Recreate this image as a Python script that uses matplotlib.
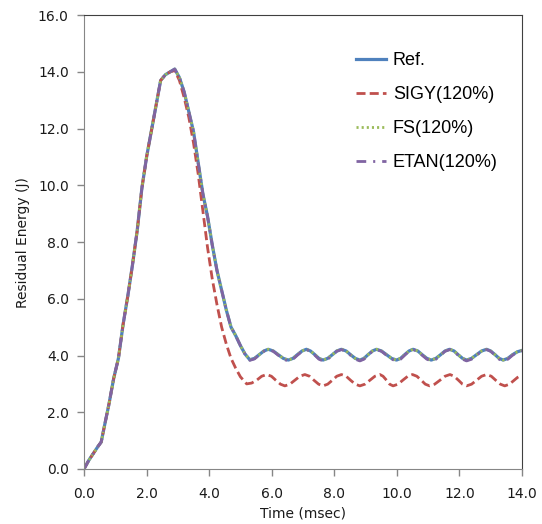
import matplotlib
matplotlib.use('Agg')
import matplotlib.pyplot as plt
import numpy as np

'''
Data (read off the chart)
'''
# Ref. curve
ref_t = [0.0, 0.15, 0.3, 0.45, 0.55, 0.65, 0.8, 0.95, 1.1, 1.25, 1.4, 1.55, 1.7, 1.85,
         2.0, 2.15, 2.3, 2.45, 2.6, 2.75, 2.9, 3.05, 3.2, 3.35, 3.5, 3.65, 3.8, 3.95,
         4.1, 4.25, 4.4, 4.55, 4.7, 4.85, 5.0, 5.15,
         5.3, 5.45, 5.6, 5.75, 5.89, 6.05, 6.21, 6.37, 6.53, 6.68, 6.82, 6.97,
         7.11, 7.24, 7.38, 7.51, 7.64, 7.79, 7.94, 8.08, 8.23, 8.38, 8.52, 8.67,
         8.82, 8.95, 9.08, 9.22, 9.35, 9.51, 9.67, 9.83, 9.99, 10.12, 10.25, 10.39,
         10.52, 10.67, 10.81, 10.96, 11.1, 11.25, 11.4, 11.54, 11.69, 11.83, 11.96, 12.1,
         12.23, 12.39, 12.55, 12.71, 12.87, 13.0, 13.14, 13.27, 13.4, 13.55, 13.7, 13.85, 14.0]
ref_e = [0.0, 0.3, 0.55, 0.8, 0.95, 1.5, 2.3, 3.2, 3.9, 5.1, 6.1, 7.2, 8.4, 9.9,
         11.0, 11.9, 12.8, 13.7, 13.9, 14.0, 14.1, 13.8, 13.3, 12.6, 11.9, 10.8, 9.7, 8.9,
         7.9, 7.0, 6.3, 5.6, 5.0, 4.7, 4.35, 4.05,
         3.85, 3.9, 4.03, 4.16, 4.22, 4.16, 4.03, 3.9, 3.84, 3.9, 4.03, 4.16,
         4.22, 4.16, 4.03, 3.9, 3.84, 3.9, 4.03, 4.16, 4.22, 4.16, 4.03, 3.9,
         3.84, 3.9, 4.03, 4.16, 4.22, 4.16, 4.03, 3.9, 3.84, 3.9, 4.03, 4.16,
         4.22, 4.16, 4.03, 3.9, 3.84, 3.9, 4.03, 4.16, 4.22, 4.16, 4.03, 3.9,
         3.84, 3.9, 4.03, 4.16, 4.22, 4.16, 4.03, 3.9, 3.84, 3.9, 4.03, 4.13, 4.18]

# SIGY(120%)
sigy_t = [0.0, 0.15, 0.3, 0.45, 0.55, 0.65, 0.8, 0.95, 1.1, 1.25, 1.4, 1.55, 1.7, 1.85,
          2.0, 2.15, 2.3, 2.45, 2.6, 2.75, 2.9, 3.05, 3.2, 3.35, 3.5, 3.65, 3.8, 3.95,
          4.1, 4.25, 4.4, 4.55, 4.7, 4.85, 5.0,
          5.2, 5.36, 5.52, 5.68, 5.84, 5.99, 6.13, 6.28, 6.42, 6.58, 6.74, 6.9,
          7.06, 7.21, 7.35, 7.5, 7.64, 7.79, 7.94, 8.08, 8.23, 8.38, 8.52, 8.67,
          8.82, 8.98, 9.14, 9.3, 9.46, 9.56, 9.67, 9.77, 9.88, 10.04, 10.19, 10.35,
          10.5, 10.64, 10.78, 10.91, 11.05, 11.21, 11.38, 11.54, 11.7, 11.83, 11.97, 12.1,
          12.23, 12.39, 12.55, 12.71, 12.87, 13.02, 13.16, 13.31, 13.45, 13.6, 13.72, 13.86, 14.0]
sigy_e = [0.0, 0.3, 0.55, 0.8, 0.95, 1.5, 2.3, 3.2, 3.9, 5.1, 6.1, 7.2, 8.4, 9.9,
          11.0, 11.9, 12.8, 13.7, 13.9, 14.0, 14.05, 13.7, 13.1, 12.4, 11.5, 10.4, 9.1, 7.8,
          6.7, 5.8, 5.0, 4.4, 3.9, 3.55, 3.25,
          3.0, 3.03, 3.13, 3.27, 3.33, 3.27, 3.13, 2.99, 2.93, 2.99, 3.13, 3.27,
          3.33, 3.27, 3.13, 2.99, 2.93, 2.99, 3.13, 3.27, 3.33, 3.27, 3.13, 2.99,
          2.93, 2.99, 3.13, 3.27, 3.33, 3.27, 3.13, 2.99, 2.93, 2.99, 3.13, 3.27,
          3.33, 3.27, 3.13, 2.99, 2.93, 2.99, 3.13, 3.27, 3.33, 3.27, 3.13, 2.99,
          2.93, 2.99, 3.13, 3.27, 3.33, 3.27, 3.13, 2.99, 2.93, 2.99, 3.1, 3.23, 3.32]

# FS(120%) - lies on top of Ref.
fs_t = ref_t
fs_e = list(ref_e)

# ETAN(120%) - same as Ref. but troughs slightly lower
etan_t = ref_t
etan_e = [0.0, 0.3, 0.55, 0.8, 0.95, 1.5, 2.3, 3.2, 3.9, 5.1, 6.1, 7.2, 8.4, 9.9,
          11.0, 11.9, 12.8, 13.7, 13.9, 14.0, 14.1, 13.8, 13.3, 12.6, 11.9, 10.8, 9.7, 8.9,
          7.9, 7.0, 6.3, 5.6, 5.0, 4.7, 4.35, 4.04,
          3.83, 3.88, 4.02, 4.15, 4.21, 4.15, 4.01, 3.87, 3.81, 3.87, 4.01, 4.15,
          4.21, 4.15, 4.01, 3.87, 3.81, 3.87, 4.01, 4.15, 4.21, 4.15, 4.01, 3.87,
          3.81, 3.87, 4.01, 4.15, 4.21, 4.15, 4.01, 3.87, 3.81, 3.87, 4.01, 4.15,
          4.21, 4.15, 4.01, 3.87, 3.81, 3.87, 4.01, 4.15, 4.21, 4.15, 4.01, 3.87,
          3.81, 3.87, 4.01, 4.15, 4.21, 4.15, 4.01, 3.87, 3.81, 3.87, 4.01, 4.12, 4.17]

labels = ['Ref.', 'SIGY(120%)', 'FS(120%)', 'ETAN(120%)']
xticks = np.arange(0, 14.1, 2)
yticks = np.arange(0, 16.1, 2)

'''
Plot
'''
plt.rcParams['lines.scale_dashes'] = False
plt.rcParams['font.family'] = 'DejaVu Sans'

fig = plt.figure(figsize=(5.42, 5.24), dpi=100)
ax = fig.add_axes([0.155, 0.105, 0.808, 0.866])

lw = 2.0
ax.plot(ref_t, ref_e, color='#4F81BD', lw=2.3, label=labels[0])
ax.plot(sigy_t, sigy_e, color='#C0504D', lw=lw, dashes=[6.5, 3], label=labels[1])
ax.plot(fs_t, fs_e, color='#9BBB59', lw=lw, dashes=[1.5, 2.2], label=labels[2])
ax.plot(etan_t, etan_e, color='#8064A2', lw=lw, dashes=[7, 5, 1.5, 5], label=labels[3])

ax.set_xlim(0, 14)
ax.set_ylim(0, 16)
ax.set_xticks(xticks)
ax.set_yticks(yticks)
ax.set_xticklabels(['%.1f' % v for v in xticks])
ax.set_yticklabels(['%.1f' % v for v in yticks])
ax.tick_params(labelsize=10, colors='#868686', labelcolor='#1a1a1a', length=5, width=1)
ax.tick_params(axis='y', pad=6)
ax.tick_params(axis='x', pad=8)

ax.set_xlabel('Time (msec)', fontsize=10, color='#1a1a1a', labelpad=4)
ax.set_ylabel('Residual Energy (J)', fontsize=10, color='#1a1a1a', labelpad=6)

for s in ['left', 'bottom']:
    ax.spines[s].set_color('#868686')
for s in ['top', 'right']:
    ax.spines[s].set_color('#404040')

leg = ax.legend(loc='upper left', bbox_to_anchor=(0.583, 0.955), frameon=False,
                prop={'family': 'Liberation Sans', 'size': 13},
                handlelength=1.66, handletextpad=0.4, labelspacing=0.95)

fig.savefig('out.png', dpi=100)
